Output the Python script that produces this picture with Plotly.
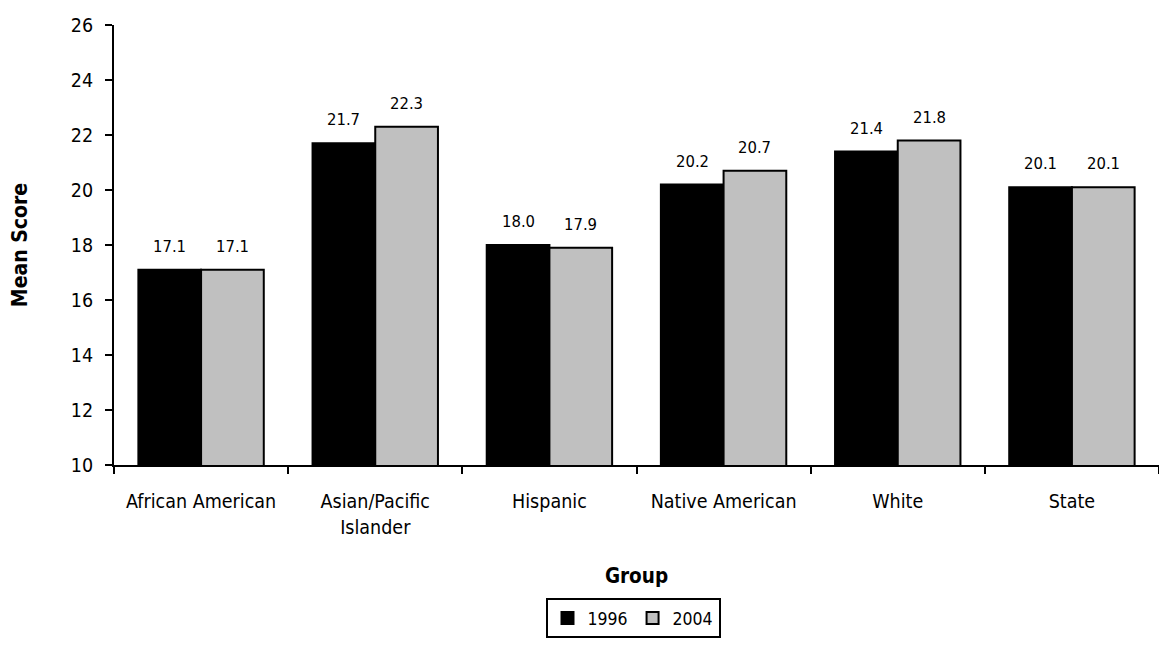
import plotly.graph_objects as go

categories = ["African American", "Asian/Pacific<br>Islander", "Hispanic", "Native American", "White", "State"]
v1996 = [17.1, 21.7, 18.0, 20.2, 21.4, 20.1]
v2004 = [17.1, 22.3, 17.9, 20.7, 21.8, 20.1]
yticks = [10, 12, 14, 16, 18, 20, 22, 24, 26]

FONT = "DejaVu Sans Condensed, Liberation Sans Narrow, Arial Narrow, sans-serif"
BARGAP = 0.28
half = (1 - BARGAP) / 4

# page body has an 8px margin; figure sized to fit inside the 1167x648 window
W, H = 1151, 632

fig = go.Figure()
fig.add_trace(go.Bar(x=categories, y=v1996, name="1996",
                     marker=dict(color="#000000", line=dict(color="#000000", width=2))))
fig.add_trace(go.Bar(x=categories, y=v2004, name="2004",
                     marker=dict(color="#C0C0C0", line=dict(color="#000000", width=2))))

annotations = []
for i, (a, b) in enumerate(zip(v1996, v2004)):
    for off, v in ((-half, a), (half, b)):
        annotations.append(dict(x=i + off, y=v, xref="x", yref="y", text=f"{v:.1f}",
                                showarrow=False, yanchor="bottom", yshift=12,
                                font=dict(size=16.5, color="#000000")))

fig.update_layout(
    width=W, height=H,
    margin=dict(l=106, r=0, t=17, b=175, autoexpand=False),
    plot_bgcolor="white", paper_bgcolor="white",
    font=dict(family=FONT, size=19, color="#000000"),
    barmode="group", bargap=BARGAP, bargroupgap=0,
    showlegend=True,
    annotations=annotations,
    legend=dict(orientation="h", x=625 / W, xanchor="center", xref="container",
                y=2 / H, yanchor="bottom", yref="container",
                bordercolor="#000000", borderwidth=2, font=dict(size=17.5),
                itemwidth=30, tracegroupgap=0),
    xaxis=dict(
        title=dict(text="<b>Group</b>", font=dict(size=20.5), standoff=31),
        showline=True, linecolor="#000000", linewidth=2, automargin=False,
        ticks="outside", ticklen=7, tickwidth=2, tickcolor="#000000",
        tickson="boundaries", showgrid=False, tickangle=0,
        tickfont=dict(size=19.5), ticklabelstandoff=18,
    ),
    yaxis=dict(
        title=dict(text="<b>Mean Score</b>", font=dict(size=21), standoff=38),
        range=[10, 26], tickvals=yticks, automargin=False,
        showline=True, linecolor="#000000", linewidth=2,
        ticks="outside", ticklen=7, tickwidth=2, tickcolor="#000000",
        showgrid=False, zeroline=False, tickfont=dict(size=19.5),
        ticklabelstandoff=8,
    ),
)
fig.write_html("out.html")
